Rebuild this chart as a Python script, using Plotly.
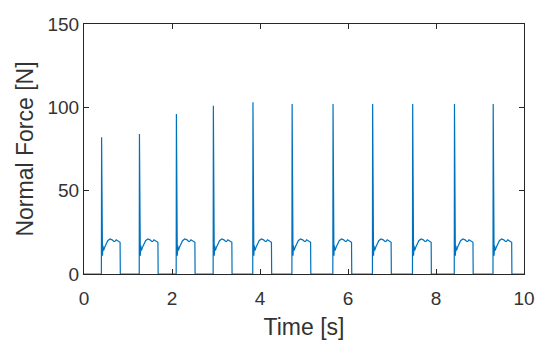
import plotly.graph_objects as go

# Spike onset times [s] and spike peak forces [N]
spike_times = [0.40, 1.26, 2.10, 2.94, 3.84, 4.73, 5.66, 6.56, 7.47, 8.42, 9.30]
peak_forces = [82, 84, 96, 101, 103, 102, 102, 102, 102, 102, 102]

# Shape of one contact phase after the spike (offset [s], force [N])
pulse_offsets = [-0.005, 0.0, 0.008, 0.015, 0.02, 0.03, 0.045, 0.07, 0.10, 0.14, 0.19,
                 0.24, 0.28, 0.30, 0.33, 0.36, 0.40, 0.42, 0.425]
pulse_forces = [0, None, 12, 19, 11, 17, 14, 16, 18, 20, 21,
                20.5, 19.5, 19.5, 20.5, 20, 19.5, 19, 0]

x_ticks = [0, 2, 4, 6, 8, 10]
y_ticks = [0, 50, 100, 150]

t = [0.0]
f = [0.0]
for ts, pk in zip(spike_times, peak_forces):
    for off, val in zip(pulse_offsets, pulse_forces):
        t.append(ts + off)
        f.append(pk if val is None else val)
t.append(10.0)
f.append(0.0)

fig = go.Figure(go.Scatter(x=t, y=f, mode="lines",
                           line=dict(color="#0072BD", width=1.2)))

axis_common = dict(showline=True, mirror="ticks", linecolor="#262626", linewidth=1,
                   ticks="inside", ticklen=5, tickcolor="#262626", showgrid=False,
                   zeroline=False, automargin=False,
                   tickfont=dict(size=19, color="#333333"),
                   title_font=dict(size=23, color="#333333"))

# page body has an 8px default margin, so the figure is sized to end at the window edge
fig.update_layout(
    width=542, height=347,
    margin=dict(l=76, r=26, t=16, b=81),
    paper_bgcolor="white", plot_bgcolor="white",
    font=dict(family="Liberation Sans, Arial, sans-serif"),
    showlegend=False,
    xaxis=dict(range=[0, 10], tickvals=x_ticks, ticklabelstandoff=7,
               title=dict(text="Time [s]", standoff=11), **axis_common),
    yaxis=dict(range=[0, 150], tickvals=y_ticks,
               title=dict(text="Normal Force [N]", standoff=7), **axis_common),
)

fig.write_html("out.html")
